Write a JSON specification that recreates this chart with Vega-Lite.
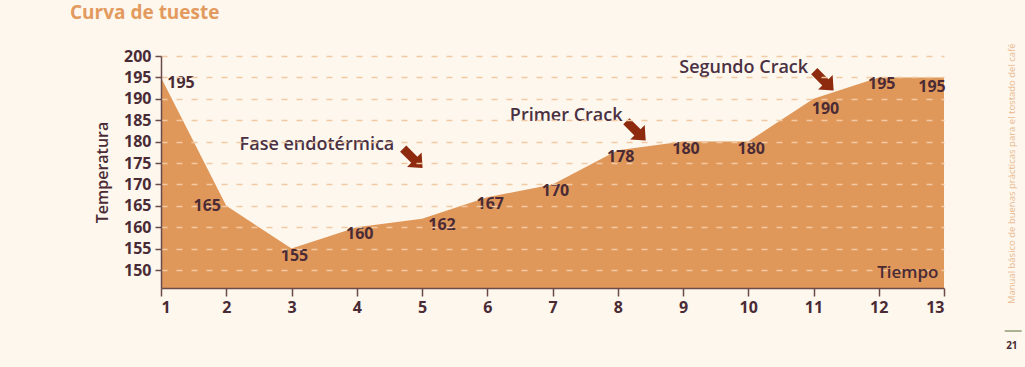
{
  "$schema": "https://vega.github.io/schema/vega-lite/v6.json",
  "width": 783,
  "height": 232,
  "autosize": "none",
  "padding": {"left": 161, "top": 56, "right": 81, "bottom": 79},
  "background": "#fdf7ed",
  "title": {
    "text": "Curva de tueste",
    "anchor": "start",
    "frame": "group",
    "dx": -91,
    "offset": 20,
    "color": "#e39a5e",
    "font": "Open Sans",
    "fontSize": 19,
    "fontWeight": "bold"
  },
  "config": {
    "view": {"stroke": null},
    "text": {"font": "Open Sans"},
    "axis": {"labelFont": "Open Sans", "titleFont": "Open Sans"}
  },
  "datasets": {
    "curve": [
      {"t": 1, "temp": 195},
      {"t": 2, "temp": 165},
      {"t": 3, "temp": 155},
      {"t": 4, "temp": 160},
      {"t": 5, "temp": 162},
      {"t": 6, "temp": 167},
      {"t": 7, "temp": 170},
      {"t": 8, "temp": 178},
      {"t": 9, "temp": 180},
      {"t": 10, "temp": 180},
      {"t": 11, "temp": 190},
      {"t": 12, "temp": 195},
      {"t": 13, "temp": 195}
    ],
    "notes": [
      {"label": "Fase endotérmica", "t": 3.39, "temp": 179.2},
      {"label": "Primer Crack", "t": 7.21, "temp": 186.0},
      {"label": "Segundo Crack", "t": 9.93, "temp": 197.2}
    ],
    "arrows": [
      {"label": "Fase endotérmica", "t": 4.86, "temp": 176.1},
      {"label": "Primer Crack", "t": 8.28, "temp": 182.5},
      {"label": "Segundo Crack", "t": 11.16, "temp": 194.2}
    ]
  },
  "encoding": {
    "x": {
      "field": "t", "type": "quantitative",
      "scale": {"domain": [1, 13], "nice": false, "zero": false},
      "axis": {
        "values": [1,2,3,4,5,6,7,8,9,10,11,12,13],
        "format": "d",
        "grid": false,
        "labelOverlap": false,
        "domainColor": "#6a4a4a",
        "domainWidth": 1.5,
        "tickColor": "#6a4a4a",
        "tickWidth": 1.5,
        "tickSize": 8,
        "labelColor": "#4a2b35",
        "labelFontSize": 16,
        "labelFontWeight": "bold",
        "labelPadding": 3,
        "title": "Tiempo",
        "titleColor": "#4a2b35",
        "titleFontSize": 17,
        "titleFontWeight": 600,
        "titleAnchor": null,
        "titleAlign": "right",
        "titleBaseline": "alphabetic",
        "titleX": 777,
        "titleY": -11,
        "zindex": 1
      }
    },
    "y": {
      "field": "temp", "type": "quantitative",
      "scale": {"domain": [145.8, 200], "nice": false, "zero": false},
      "axis": {
        "values": [150,155,160,165,170,175,180,185,190,195,200],
        "labelOverlap": false,
        "grid": true,
        "gridColor": "#f2c9a2",
        "gridDash": [6, 9],
        "gridWidth": 1.5,
        "domainColor": "#6a4a4a",
        "domainWidth": 1.5,
        "tickColor": "#6a4a4a",
        "tickWidth": 1.5,
        "tickSize": 6,
        "labelColor": "#4a2b35",
        "labelFontSize": 16,
        "labelFontWeight": "bold",
        "labelPadding": 4,
        "title": "Temperatura",
        "titleColor": "#4a2b35",
        "titleFontSize": 16,
        "titleFontWeight": 600,
        "titlePadding": 13,
        "zindex": 1
      }
    }
  },
  "layer": [
    {
      "data": {"name": "curve"},
      "mark": {"type": "area", "color": "#e0975a", "opacity": 1},
      "encoding": {
        "y2": {"datum": 145.8}
      }
    },
    {
      "data": {"name": "curve"},
      "transform": [{"filter": "indexof([3,4,6,7,8,9,10,12], datum.t) >= 0"}],
      "mark": {"type": "text", "dx": 3, "dy": 7, "fontSize": 16, "fontWeight": "bold", "color": "#4a2b35", "baseline": "middle"},
      "encoding": {
        "text": {"field": "temp", "type": "quantitative"}
      }
    },
    {
      "data": {"name": "curve"},
      "transform": [{"filter": "datum.t == 1 || datum.t == 5"}],
      "mark": {"type": "text", "dx": 20, "dy": 6, "fontSize": 16, "fontWeight": "bold", "color": "#4a2b35", "baseline": "middle"},
      "encoding": {
        "text": {"field": "temp", "type": "quantitative"}
      }
    },
    {
      "data": {"name": "curve"},
      "transform": [{"filter": "datum.t == 2"}],
      "mark": {"type": "text", "dx": -19, "dy": 0, "fontSize": 16, "fontWeight": "bold", "color": "#4a2b35", "baseline": "middle"},
      "encoding": {
        "text": {"field": "temp", "type": "quantitative"}
      }
    },
    {
      "data": {"name": "curve"},
      "transform": [{"filter": "datum.t == 11"}],
      "mark": {"type": "text", "dx": 12, "dy": 10, "fontSize": 16, "fontWeight": "bold", "color": "#4a2b35", "baseline": "middle"},
      "encoding": {
        "text": {"field": "temp", "type": "quantitative"}
      }
    },
    {
      "data": {"name": "curve"},
      "transform": [{"filter": "datum.t == 13"}],
      "mark": {"type": "text", "dx": -12, "dy": 10, "fontSize": 16, "fontWeight": "bold", "color": "#4a2b35", "baseline": "middle"},
      "encoding": {
        "text": {"field": "temp", "type": "quantitative"}
      }
    },
    {
      "data": {"name": "notes"},
      "mark": {"type": "text", "fontSize": 18, "fontWeight": 600, "color": "#4a3042", "baseline": "middle", "align": "center"},
      "encoding": {
        "text": {"field": "label"}
      }
    },
    {
      "data": {"name": "arrows"},
      "mark": {
        "type": "point",
        "shape": "M -1 -0.32 L 0.15 -0.32 L 0.15 -0.75 L 1 0 L 0.15 0.75 L 0.15 0.32 L -1 0.32 Z",
        "angle": 45,
        "size": 750,
        "filled": true,
        "opacity": 1,
        "color": "#8e2a0e"
      }
    },
    {
      "data": {"values": [{"t": 14.04, "temp": 172.5, "label": "Manual básico de buenas prácticas para el tostado del café"}]},
      "mark": {"type": "text", "angle": 270, "fontSize": 9.5, "color": "#eab98f", "align": "center", "baseline": "middle"},
      "encoding": {
        "text": {"field": "label"}
      }
    },
    {
      "data": {"values": [{"t": 13.93, "t2": 14.19, "temp": 135.75}]},
      "mark": {"type": "rule", "color": "#8f9a72", "strokeWidth": 1.5},
      "encoding": {
        "x2": {"field": "t2"}
      }
    },
    {
      "data": {"values": [{"t": 14.04, "temp": 132.2, "label": "21"}]},
      "mark": {"type": "text", "fontSize": 10, "fontWeight": "bold", "color": "#4a2b35", "align": "center", "baseline": "middle"},
      "encoding": {
        "text": {"field": "label"}
      }
    }
  ]
}
